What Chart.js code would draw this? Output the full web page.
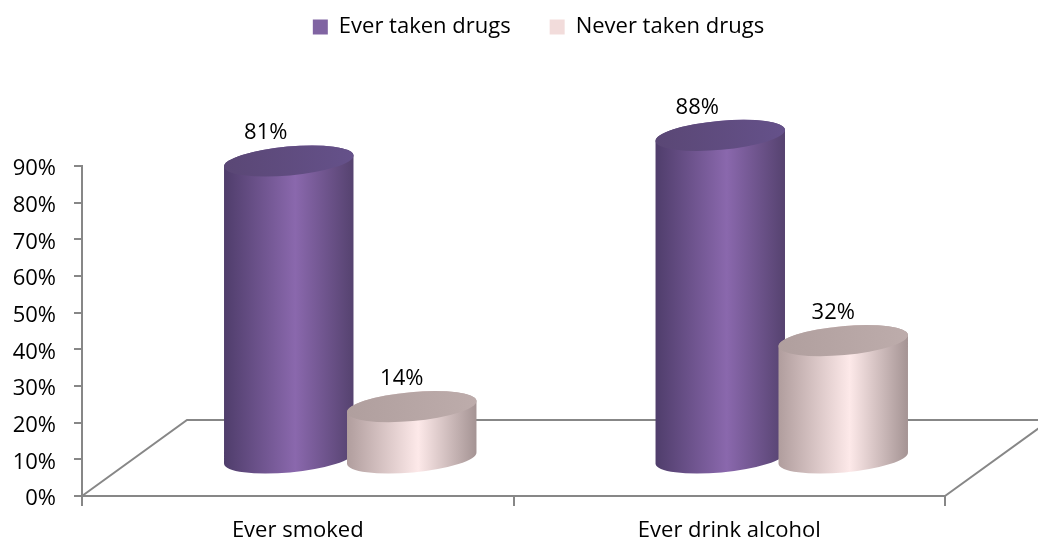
<!DOCTYPE html>
<html><head><meta charset="utf-8">
<script src="https://cdn.jsdelivr.net/npm/chart.js@4/dist/chart.umd.min.js"></script>
<style>html,body{margin:0;padding:0;background:#fff;}</style>
</head><body>
<canvas id="c" width="1038" height="542"></canvas>
<script>
const categories = ['Ever smoked', 'Ever drink alcohol'];
const seriesNames = ['Ever taken drugs', 'Never taken drugs'];
const everTakenDrugs = [81, 88];
const neverTakenDrugs = [14, 32];
const yMin = 0, yMax = 90, yStep = 10;

const FONT = "'Open Sans', 'DejaVu Sans', sans-serif";
const AXIS_COLOR = '#878787';
const DEPTH_X = 105, DEPTH_Y = 76;

const styles = [
  {legend: '#8064A2', edgeL: '#4f3d6b', mid: '#8a68ad', edgeR: '#55426f', top1: '#5a4775', top2: '#65518a', labelDx: -23},
  {legend: '#F2DCDB', edgeL: '#b09d9d', mid: '#fde9e9', edgeR: '#a49393', top1: '#b09f9e', top2: '#bdacab', labelDx: -10}
];

function cylinder(ctx, cx, topY, botY, rx, ry, rot, st) {
  const c = Math.cos(rot), s = Math.sin(rot);
  const g = ctx.createLinearGradient(cx - rx, 0, cx + rx, 0);
  g.addColorStop(0, st.edgeL);
  g.addColorStop(0.55, st.mid);
  g.addColorStop(1, st.edgeR);
  ctx.beginPath();
  ctx.moveTo(cx - rx * c, topY - rx * s);
  ctx.lineTo(cx - rx * c, botY - rx * s);
  ctx.ellipse(cx, botY, rx, ry, rot, Math.PI, 0, true);
  ctx.lineTo(cx + rx * c, topY + rx * s);
  ctx.ellipse(cx, topY, rx, ry, rot, 0, Math.PI, true);
  ctx.closePath();
  ctx.fillStyle = g;
  ctx.fill();
  const tg = ctx.createLinearGradient(cx - rx, 0, cx + rx, 0);
  tg.addColorStop(0, st.top1);
  tg.addColorStop(1, st.top2);
  ctx.beginPath();
  ctx.ellipse(cx, topY, rx, ry, rot, 0, Math.PI * 2);
  ctx.fillStyle = tg;
  ctx.fill();
}

const cylinderPlugin = {
  id: 'cylinders',
  beforeUpdate(chart) {
    const lg = chart.legend;
    if (lg && !lg._patched) {
      const orig = lg.fit;
      lg.fit = function () { orig.call(this); this.height = 166; };
      lg._patched = true;
    }
  },
  afterLayout(chart) {
    const lg = chart.legend;
    lg.left += 60; lg.right += 60;
    lg.top -= 23; lg.bottom -= 23;
  },
  beforeDatasetsDraw(chart) {
    const ctx = chart.ctx;
    const {left, right, bottom} = chart.chartArea;
    ctx.save();
    // 3D floor
    ctx.strokeStyle = AXIS_COLOR;
    ctx.lineWidth = 2;
    ctx.beginPath();
    ctx.moveTo(left, bottom); ctx.lineTo(left + DEPTH_X, bottom - DEPTH_Y);
    ctx.lineTo(right + DEPTH_X, bottom - DEPTH_Y);
    ctx.moveTo(right, bottom); ctx.lineTo(right + DEPTH_X, bottom - DEPTH_Y);
    ctx.stroke();
    const y = chart.scales.y;
    const dx = DEPTH_X / 2, dy = DEPTH_Y / 2;
    const labels = [];
    chart.data.datasets.forEach((ds, di) => {
      const meta = chart.getDatasetMeta(di);
      const st = styles[di];
      meta.data.forEach((bar, i) => {
        const rx = bar.width / 2;
        const ry = 14.5;
        const cx = bar.x + dx;
        const topY = y.getPixelForValue(ds.data[i]) - dy;
        const botY = y.getPixelForValue(0) - dy;
        cylinder(ctx, cx, topY, botY, rx, ry, -0.09, st);
        labels.push({x: cx + st.labelDx, y: topY - 28, t: ds.data[i] + '%'});
      });
    });
    ctx.fillStyle = '#000';
    ctx.font = '22px ' + FONT;
    ctx.textAlign = 'center';
    ctx.textBaseline = 'middle';
    labels.forEach(l => ctx.fillText(l.t, l.x, l.y));
    ctx.restore();
    return false;
  }
};

new Chart(document.getElementById('c'), {
  type: 'bar',
  data: {
    labels: categories,
    datasets: [
      {label: seriesNames[0], data: everTakenDrugs, backgroundColor: styles[0].legend, borderWidth: 0},
      {label: seriesNames[1], data: neverTakenDrugs, backgroundColor: styles[1].legend, borderWidth: 0}
    ]
  },
  options: {
    responsive: false,
    animation: false,
    devicePixelRatio: 1,
    categoryPercentage: 0.57,
    barPercentage: 1.057,
    layout: {padding: {left: 12, right: 93, top: 0, bottom: 2}},
    plugins: {
      legend: {
        position: 'top',
        labels: {boxWidth: 15, boxHeight: 15, padding: 39, color: '#000', font: {family: FONT, size: 22}}
      },
      tooltip: {enabled: false}
    },
    scales: {
      x: {
        afterFit(scale) { scale.height = 44; },
        grid: {display: true, drawOnChartArea: false, offset: true, tickLength: 10, color: AXIS_COLOR, lineWidth: 2},
        border: {display: true, color: AXIS_COLOR, width: 2},
        ticks: {color: '#000', font: {family: FONT, size: 22}, padding: 12}
      },
      y: {
        min: yMin, max: yMax,
        afterFit(scale) { scale.width = 70; },
        grid: {display: true, drawOnChartArea: false, tickLength: 8, color: AXIS_COLOR, lineWidth: 2},
        border: {display: true, color: AXIS_COLOR, width: 2},
        ticks: {stepSize: yStep, color: '#000', font: {family: FONT, size: 22}, padding: 18, labelOffset: 3,
          callback: v => v + '%'}
      }
    }
  },
  plugins: [cylinderPlugin]
});
</script>
</body></html>
